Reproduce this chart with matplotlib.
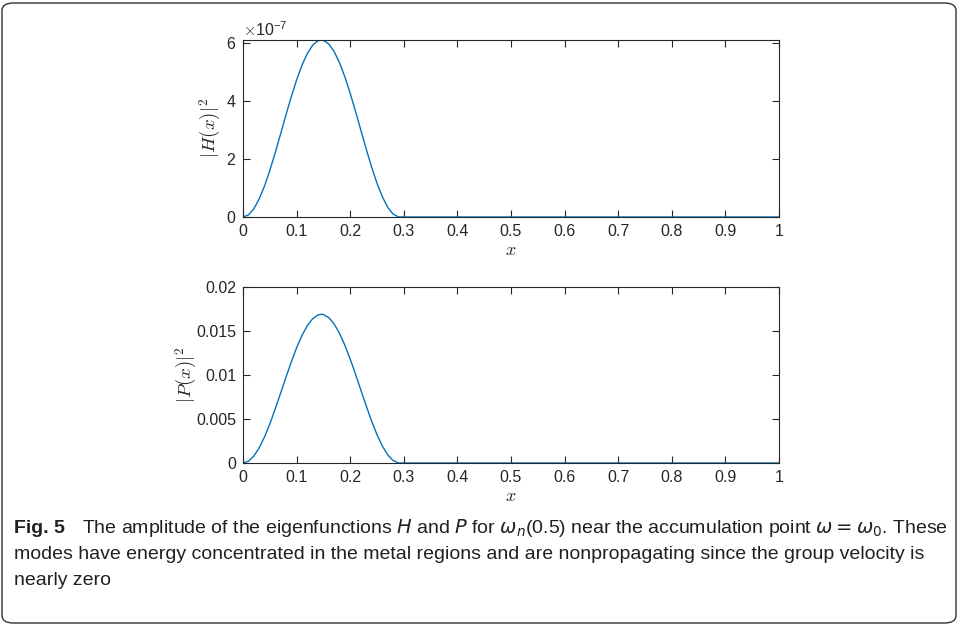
import matplotlib
matplotlib.use('Agg')
import numpy as np
import matplotlib.pyplot as plt
from matplotlib.patches import FancyBboxPatch
from matplotlib.ticker import ScalarFormatter, FormatStrFormatter

plt.rcParams.update({'font.family': ['Liberation Sans', 'DejaVu Sans'],
                     'mathtext.fontset': 'cm', 'font.size': 10})

# values (eigenfunction amplitudes)
x_pts = [0, 0.01, 0.02, 0.03, 0.04, 0.05, 0.06, 0.07, 0.08, 0.09, 0.10, 0.11,
         0.12, 0.13, 0.14, 0.146, 0.15, 0.16, 0.17, 0.18, 0.19, 0.20, 0.21,
         0.22, 0.23, 0.24, 0.25, 0.26, 0.27, 0.28, 0.29, 0.292, 1.0]
H_sq = [0, 0.070, 0.278, 0.613, 1.062, 1.601, 2.208, 2.854, 3.509, 4.142,
        4.724, 5.230, 5.635, 5.921, 6.074, 6.100, 6.089, 5.963, 5.703, 5.319,
        4.832, 4.262, 3.637, 2.983, 2.334, 1.718, 1.163, 0.695, 0.335, 0.101,
        0.003, 0, 0]  # x 1e-7
P_sq = [0, 0.000194, 0.000771, 0.00170, 0.00294, 0.00443, 0.00612, 0.00791,
        0.00972, 0.01148, 0.01309, 0.01449, 0.01561, 0.01640, 0.01683, 0.01690,
        0.01687, 0.01652, 0.01580, 0.01474, 0.01339, 0.01181, 0.01008, 0.00826,
        0.00647, 0.00476, 0.00322, 0.00193, 0.00093, 0.00028, 0.00001, 0, 0]

x_ticks = [0, 0.1, 0.2, 0.3, 0.4, 0.5, 0.6, 0.7, 0.8, 0.9, 1]
H_ticks = [0, 2e-7, 4e-7, 6e-7]
P_ticks = [0, 0.005, 0.01, 0.015, 0.02]

BLUE = (0, 0.447, 0.741)
GREY = '#262626'

W, H = 958, 625
fig = plt.figure(figsize=(W / 100, H / 100), dpi=100)

def fx(px): return px / W
def fy(py): return 1 - py / H

ax1 = fig.add_axes([fx(243), fy(217), fx(779 - 243), (217 - 40) / H])
ax2 = fig.add_axes([fx(243), fy(463), fx(779 - 243), (463 - 287) / H])

ax1.plot(x_pts, np.array(H_sq) * 1e-7, color=BLUE, lw=1.0)
ax2.plot(x_pts, P_sq, color=BLUE, lw=1.0)

for ax, yt in ((ax1, H_ticks), (ax2, P_ticks)):
    ax.set_xlim(0, 1)
    ax.set_xticks(x_ticks)
    ax.set_yticks(yt)
    ax.xaxis.set_major_formatter(FormatStrFormatter('%g'))
    ax.tick_params(direction='in', length=5, width=0.8, colors=GREY,
                   labelsize=11.5, top=True, right=True, pad=5)
    for s in ax.spines.values():
        s.set_color(GREY); s.set_linewidth(0.8)
    ax.set_xlabel('$x$', fontsize=13, color=GREY, labelpad=2)

ax1.set_ylim(0, 6.1e-7)
fmt = ScalarFormatter(useMathText=True)
fmt.set_powerlimits((-3, 3))
ax1.yaxis.set_major_formatter(fmt)
ax1.yaxis.get_offset_text().set_fontsize(11.5)
ax1.yaxis.get_offset_text().set_color(GREY)
ax1.set_ylabel('$|H(x)|^2$', fontsize=13.5, color=GREY, labelpad=2)

ax2.set_ylim(0, 0.02)
ax2.yaxis.set_major_formatter(FormatStrFormatter('%g'))
ax2.set_ylabel('$|P(x)|^2$', fontsize=13.5, color=GREY, labelpad=-2)

# rounded frame round the whole figure
frame = FancyBboxPatch((fx(2), 1 - 623 / H), fx(954), 620 / H,
                       boxstyle='round,pad=0,rounding_size=0.012',
                       transform=fig.transFigure, fill=False,
                       edgecolor='#333333', lw=1.0)
fig.patches.append(frame)

# caption
cap_kw = dict(fontsize=14, family=['Liberation Sans', 'DejaVu Sans'],
              color='#231f20', va='baseline', ha='left',
              math_fontfamily='dejavusans')
fig.text(fx(14), fy(533), 'Fig. 5', fontweight='bold', **cap_kw)
fig.text(fx(82), fy(533),
         r'The amplitude of the eigenfunctions $H$ and $P$ for $\omega_n$(0.5) '
         r'near the accumulation point $\omega = \omega_0$. These', **cap_kw)
fig.text(fx(14), fy(559),
         'modes have energy concentrated in the metal regions and are '
         'nonpropagating since the group velocity is', **cap_kw)
fig.text(fx(14), fy(585), 'nearly zero', **cap_kw)

fig.savefig('out.png', dpi=100)
